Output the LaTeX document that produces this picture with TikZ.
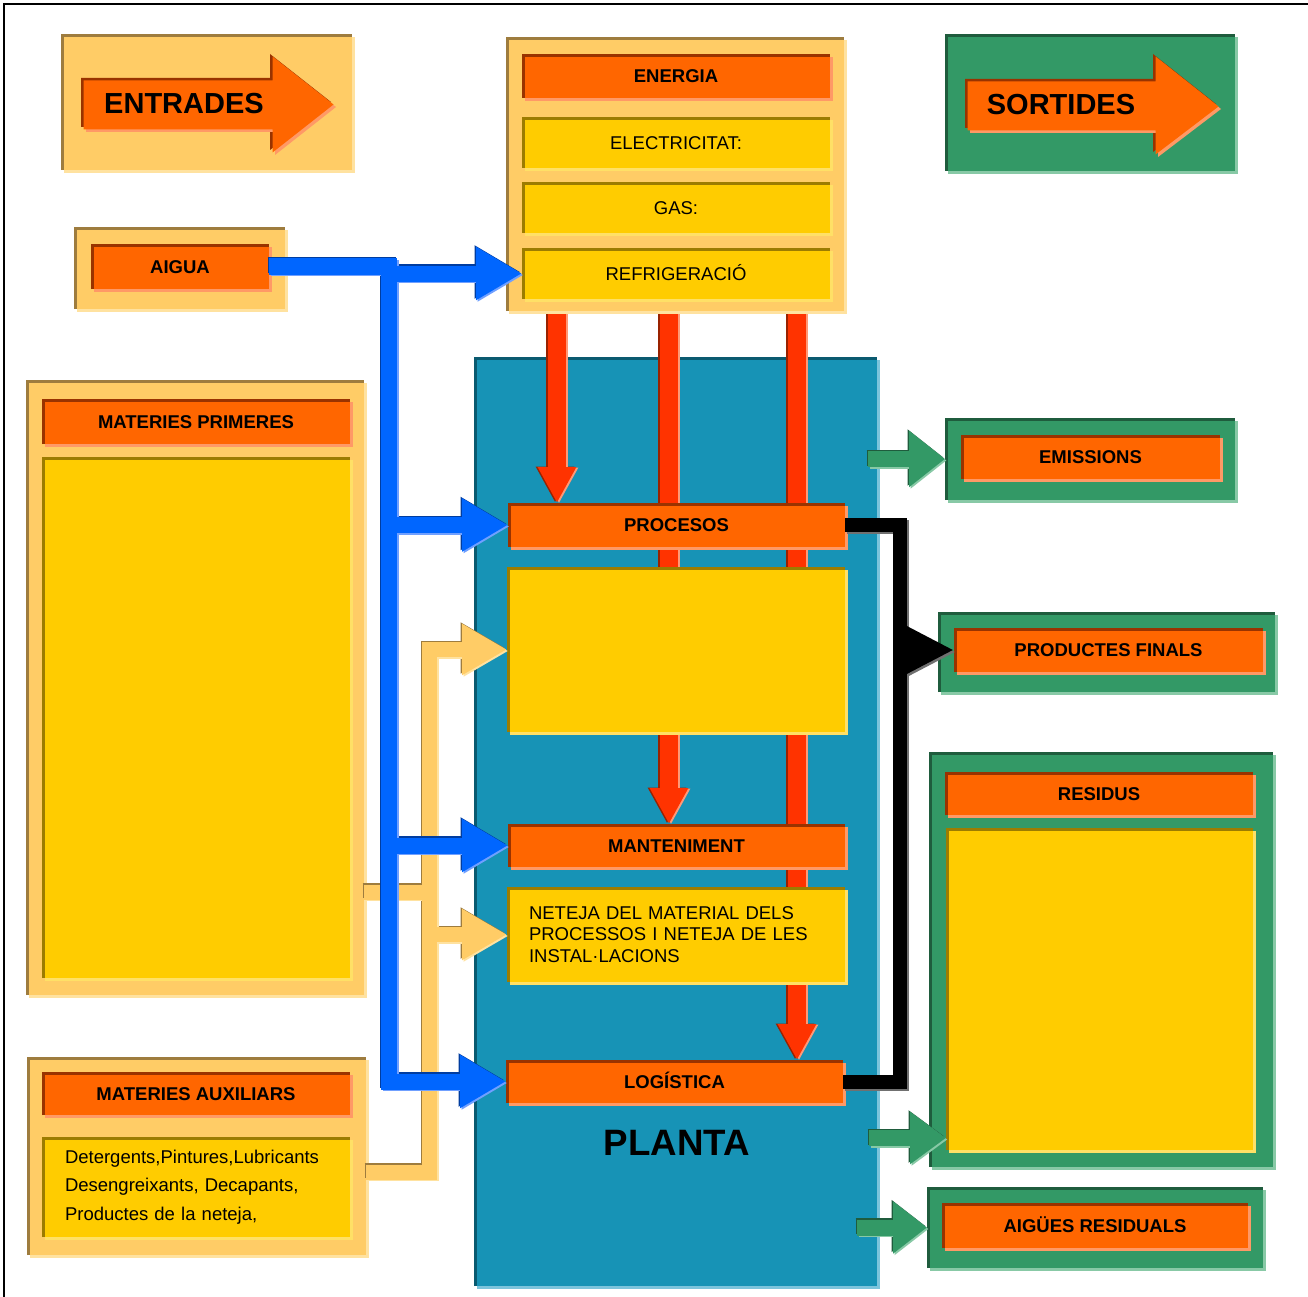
\documentclass[tikz,border=0pt]{standalone}
\usepackage{fontspec}
\setmainfont{Liberation Sans}
\usetikzlibrary{arrows.meta,calc}
\pgfdeclarelayer{bg}\pgfdeclarelayer{mid}\pgfsetlayers{bg,mid,main}
\definecolor{creamF}{HTML}{FFCC66}\definecolor{creamD}{HTML}{9E7C3E}\definecolor{creamL}{HTML}{FFE2A0}
\definecolor{orangeF}{HTML}{FF6600}\definecolor{orangeD}{HTML}{993300}\definecolor{orangeL}{HTML}{FF9966}
\definecolor{yellowF}{HTML}{FFCC00}\definecolor{yellowD}{HTML}{9C7C00}\definecolor{yellowL}{HTML}{FFE066}
\definecolor{greenF}{HTML}{339966}\definecolor{greenD}{HTML}{1F5C3D}\definecolor{greenL}{HTML}{88C9A6}
\definecolor{plantF}{HTML}{1793B6}\definecolor{plantD}{HTML}{0A5A70}\definecolor{plantL}{HTML}{7CC4DC}
\definecolor{redF}{HTML}{FF3300}\definecolor{redD}{HTML}{992200}\definecolor{redL}{HTML}{FF9977}
\definecolor{blueF}{HTML}{0066FF}\definecolor{blueD}{HTML}{003DA0}\definecolor{blueL}{HTML}{70A0FF}
\definecolor{shadeK}{HTML}{707070}
\tikzset{
  pbox/.style={inner sep=0pt, outer sep=0pt, text=black},
  hdr/.style={font=\fontsize{18.5}{22}\selectfont\bfseries, text height=13.3pt, text depth=0pt},
  txt/.style={font=\fontsize{18.5}{22}\selectfont, text height=13.3pt, text depth=0pt},
  listtxt/.style={font=\fontsize{18.5}{28.5}\selectfont, align=left, text width=262pt},
  nettxt/.style={font=\fontsize{18.5}{21.5}\selectfont, align=left, text width=294pt},
  bigtxt/.style={font=\fontsize{29}{32}\selectfont\bfseries, inner sep=0pt},
  flow/.style={line join=miter},
}
\newcommand\panel[8]{%
  \fill[#1L] ({#3+3},{#4+3}) rectangle ({#5+3},{#6+3});
  \node[pbox, fill=#1F, minimum width={(#5-#3)*1pt}, minimum height={(#6-#4)*1pt}, #7] (#2) at ({(#3+#5)/2},{(#4+#6)/2}) {#8};
  \draw[#1D, line width=3pt] ({#3+1.5},#6) -- ({#3+1.5},{#4+1.5}) -- (#5,{#4+1.5});
}
\begin{document}
\begin{tikzpicture}[x=1pt,y=-1pt]
\useasboundingbox (0,0) rectangle (1308,1297);
\begin{pgfonlayer}{bg}
\fill[white] (0,0) rectangle (1308,1297);
\end{pgfonlayer}
\draw[line width=2.5pt] (4,1297) -- (4,4) -- (1308,4);

% ---------- ENTRADES ----------
\panel{cream}{entP}{61}{34}{352}{170}{}{}
\foreach \col/\s in {orangeD/0, orangeL/5, orangeF/2.5}{
  \fill[\col, shift={(\s,\s)}] (81,78) -- (270,78) -- (270,54) -- (331,102) -- (270,150) -- (270,127) -- (81,127) -- cycle;
}
\node[bigtxt] (enttxt) at (184,104) {ENTRADES};

% ---------- SORTIDES ----------
\panel{green}{sortP}{945}{34}{1235}{171}{}{}
\foreach \col/\s in {orangeD/0, orangeL/5, orangeF/2.5}{
  \fill[\col, shift={(\s,\s)}] (965,79) -- (1153,79) -- (1153,54) -- (1216,104) -- (1153,152) -- (1153,128) -- (965,128) -- cycle;
}
\node[bigtxt] (sorttxt) at (1061,105) {SORTIDES};

% ---------- left side ----------
\panel{cream}{aiguaP}{74}{227}{285}{309}{}{}
\panel{orange}{aigua}{91}{244}{269}{289}{hdr}{AIGUA}
\panel{cream}{mpP}{26}{380}{364}{995}{}{}
\panel{orange}{mp}{42}{399}{350}{444}{hdr}{MATERIES PRIMERES}
\panel{yellow}{mpy}{42}{457}{350}{978}{}{}
\panel{cream}{maP}{27}{1057}{366}{1255}{}{}
\panel{orange}{ma}{42}{1072}{350}{1115}{hdr}{MATERIES AUXILIARS}
\panel{yellow}{may}{42}{1137}{350}{1237}{listtxt}{Detergents,Pintures,Lubricants\\Desengreixants, Decapants,\\Productes de la neteja,}

% ---------- ENERGIA ----------
\panel{cream}{energiaP}{506}{37}{844}{311}{}{}
\panel{orange}{energia}{522}{54}{830}{98}{hdr}{ENERGIA}
\panel{yellow}{elec}{522}{117}{830}{168}{txt}{ELECTRICITAT:}
\panel{yellow}{gas}{522}{182}{830}{233}{txt}{GAS:}
\panel{yellow}{refrig}{522}{248}{830}{299}{txt}{REFRIGERACIÓ}

% ---------- PLANTA ----------
\begin{pgfonlayer}{bg}
\panel{plant}{plant}{474}{357}{877}{1286}{}{}
\end{pgfonlayer}
\panel{orange}{procesos}{508}{503}{845}{547}{hdr}{PROCESOS}
\panel{yellow}{py}{507}{567}{845}{732}{}{}
\panel{orange}{mant}{508}{824}{845}{867}{hdr}{MANTENIMENT}
\panel{yellow}{net}{507}{887}{845}{982}{nettxt}{NETEJA DEL MATERIAL DELS\\PROCESSOS I NETEJA DE LES\\INSTAL·LACIONS}
\panel{orange}{log}{506}{1060}{843}{1103}{hdr}{LOGÍSTICA}
\node[font=\fontsize{36.7}{40}\selectfont\bfseries, inner sep=0pt] (plantatxt) at (677,1143) {PLANTA};

% ---------- right side ----------
\panel{green}{emP}{945}{418}{1235}{500}{}{}
\panel{orange}{em}{961}{435}{1220}{479}{hdr}{EMISSIONS}
\panel{green}{pfP}{938}{612}{1275}{692}{}{}
\panel{orange}{pf}{954}{628}{1263}{672}{hdr}{PRODUCTES FINALS}
\panel{green}{resP}{929}{752}{1273}{1167}{}{}
\panel{orange}{res}{945}{772}{1253}{815}{hdr}{RESIDUS}
\panel{yellow}{resy}{946}{828}{1253}{1150}{}{}
\panel{green}{arP}{927}{1187}{1263}{1268}{}{}
\panel{orange}{ar}{942}{1203}{1248}{1248}{hdr}{AIGÜES RESIDUALS}

% ---------- red arrows (behind boxes) ----------
\coordinate (r1) at ([xshift=-118pt]energiaP.south);
\coordinate (r2) at ([xshift=-6pt]energiaP.south);
\coordinate (r3) at ([xshift=122pt]energiaP.south);
\begin{pgfonlayer}{mid}
\foreach \col/\dx/\dy in {redD/-2/0.5, redL/2/-0.5, redF/0/0}{
  \begin{scope}[transform canvas={shift={(\dx pt,\dy pt)}}]
    \draw[flow, line width=18pt, draw=\col, -{Triangle[length=36pt,width=36pt]}] (r1) -- (r1 |- procesos.north);
    \draw[flow, line width=18pt, draw=\col, -{Triangle[length=36pt,width=36pt]}] (r2) -- (r2 |- mant.north);
    \draw[flow, line width=18pt, draw=\col, -{Triangle[length=36pt,width=36pt]}] (r3) -- (r3 |- log.north);
  \end{scope}
}
\end{pgfonlayer}

% ---------- cream connectors ----------
\coordinate (cbus) at (429.5,649.5);
\coordinate (cmid) at (429.5,892);
\coordinate (cA) at ([yshift=-16pt]maP.east);
\foreach \col/\dx/\dy in {creamD/-1.5/1.5, creamL/1.5/-1.5, creamF/0/0}{
  \begin{scope}[transform canvas={shift={(\dx pt,\dy pt)}}]
    \draw[flow, line width=15pt, draw=\col] (mpP.east |- cmid) -- (cmid);
    \draw[flow, line width=15pt, draw=\col, -{Triangle[length=45pt,width=48pt]}] (cA) -| (cbus) -- (py.west);
    \draw[flow, line width=15pt, draw=\col, -{Triangle[length=45pt,width=48pt]}] (cbus |- net.west) -- (net.west);
  \end{scope}
}

% ---------- blue connectors ----------
\coordinate (bbus) at (389,266.5);
\foreach \col/\dx/\dy in {blueD/-1.5/1.5, blueL/1.5/-1.5, blueF/0/0}{
  \begin{scope}[transform canvas={shift={(\dx pt,\dy pt)}}]
    \draw[flow, line width=16pt, draw=\col, -{Triangle[length=46pt,width=50pt]}] (aigua.east) -- (bbus) |- (log.west);
    \draw[flow, line width=16pt, draw=\col, -{Triangle[length=46pt,width=50pt]}] (bbus |- refrig.west) -- (refrig.west);
    \draw[flow, line width=16pt, draw=\col, -{Triangle[length=46pt,width=50pt]}] (bbus |- procesos.west) -- (procesos.west);
    \draw[flow, line width=16pt, draw=\col, -{Triangle[length=46pt,width=50pt]}] (bbus |- mant.west) -- (mant.west);
  \end{scope}
}

% ---------- black connectors ----------
\coordinate (kbus) at (900,525);
\foreach \col/\dx/\dy in {shadeK/2/-2, black/0/0}{
  \begin{scope}[transform canvas={shift={(\dx pt,\dy pt)}}]
    \draw[flow, line width=14pt, draw=\col] (procesos.east) -- (kbus) |- (log.east);
    \draw[flow, line width=14pt, draw=\col, -{Triangle[length=49pt,width=46pt]}] (kbus |- pf.west) -- (pf.west);
  \end{scope}
}

% ---------- green arrows ----------
\coordinate (g1) at (868,459);
\coordinate (g2) at (869,1138);
\coordinate (g3) at (857,1227.5);
\foreach \col/\dx/\dy in {greenD/-1.5/1.5, greenL/1.5/-1.5, greenF/0/0}{
  \begin{scope}[transform canvas={shift={(\dx pt,\dy pt)}}]
    \draw[flow, line width=16pt, draw=\col, -{Triangle[length=36pt,width=54pt]}] (g1) -- (emP.west);
    \draw[flow, line width=16pt, draw=\col, -{Triangle[length=36pt,width=50pt]}] (g2) -- (g2 -| resy.west);
    \draw[flow, line width=16pt, draw=\col, -{Triangle[length=34pt,width=50pt]}] (g3) -- (arP.west);
  \end{scope}
}
\end{tikzpicture}
\end{document}
